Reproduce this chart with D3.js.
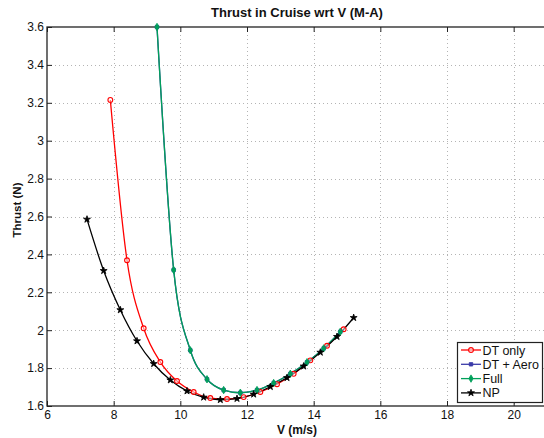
<!DOCTYPE html>
<html>
<head>
<meta charset="utf-8">
<script src="https://cdn.jsdelivr.net/npm/d3@7"></script>
<style>
    body { margin: 0; background: #fff; }
    svg { display: block; font-family: "Liberation Sans", Arial, sans-serif; }
</style>
</head>
<body>
<div id="chart-area"></div>
<script>

/* * * * * * * * * * * * * *
*      chart data          *
* * * * * * * * * * * * * */

// speeds (m/s) and thrust (N) per series
let dtOnlyV = [7.9, 8.4, 8.9, 9.4, 9.9, 10.4, 10.9, 11.4, 11.9, 12.4, 12.9, 13.4, 13.9, 14.4, 14.9];
let dtOnlyT = [3.215, 2.369, 2.010, 1.832, 1.732, 1.674, 1.642, 1.637, 1.647, 1.674, 1.715, 1.770, 1.841, 1.918, 2.005];

let dtAeroV = [9.3, 9.8, 10.3, 10.8, 11.3, 11.8, 12.3, 12.8, 13.3, 13.8, 14.3, 14.8];
let dtAeroT = [3.600, 2.318, 1.894, 1.741, 1.684, 1.670, 1.684, 1.721, 1.770, 1.831, 1.904, 1.992];

let fullV = [9.3, 9.8, 10.3, 10.8, 11.3, 11.8, 12.3, 12.8, 13.3, 13.8, 14.3, 14.8];
let fullT = [3.600, 2.318, 1.894, 1.741, 1.684, 1.670, 1.684, 1.721, 1.770, 1.831, 1.904, 1.992];

let npV = [7.2, 7.7, 8.2, 8.7, 9.2, 9.7, 10.2, 10.7, 11.2, 11.7, 12.2, 12.7, 13.2, 13.7, 14.2, 14.7, 15.2];
let npT = [2.585, 2.314, 2.107, 1.943, 1.823, 1.737, 1.679, 1.646, 1.633, 1.639, 1.662, 1.702, 1.749, 1.810, 1.883, 1.966, 2.066];

let seriesNames = ["DT only", "DT + Aero", "Full", "NP"];

// tick labels
let xTicks = [6, 8, 10, 12, 14, 16, 18, 20];
let yTicks = [1.6, 1.8, 2, 2.2, 2.4, 2.6, 2.8, 3, 3.2, 3.4, 3.6];
let yTickLabels = ["1.6", "1.8", "2", "2.2", "2.4", "2.6", "2.8", "3", "3.2", "3.4", "3.6"];


class ThrustVis {

    constructor(parentElement) {
        this.parentElement = parentElement;

        this.series = [
            {name: seriesNames[0], v: dtOnlyV, t: dtOnlyT, color: "#ff0000", symbol: "circle"},
            {name: seriesNames[1], v: dtAeroV, t: dtAeroT, color: "#3a3aa8", symbol: "square"},
            {name: seriesNames[2], v: fullV, t: fullT, color: "#00a05a", symbol: "diamond"},
            {name: seriesNames[3], v: npV, t: npT, color: "#000000", symbol: "star"}
        ];

        this.initVis();
    }

    initVis() {
        let vis = this;

        vis.width = 544;
        vis.height = 438;

        // plot box (right edge runs off the page like the original)
        vis.box = {left: 47, right: 547, top: 27, bottom: 406};

        vis.svg = d3.select("#" + vis.parentElement).append("svg")
            .attr("width", vis.width)
            .attr("height", vis.height);

        vis.x = d3.scaleLinear()
            .domain([6, 21])
            .range([vis.box.left, vis.box.right]);

        vis.y = d3.scaleLinear()
            .domain([1.6, 3.6])
            .range([vis.box.bottom, vis.box.top]);

        vis.svg.append("clipPath")
            .attr("id", "plot-clip")
            .append("rect")
            .attr("x", vis.box.left)
            .attr("y", vis.box.top - 1)
            .attr("width", vis.box.right - vis.box.left)
            .attr("height", vis.box.bottom - vis.box.top + 2);

        // dotted grid
        vis.svg.append("g")
            .selectAll("line")
            .data(xTicks.filter(d => d > 6))
            .join("line")
            .attr("x1", d => Math.round(vis.x(d)) + 0.5)
            .attr("x2", d => Math.round(vis.x(d)) + 0.5)
            .attr("y1", vis.box.top)
            .attr("y2", vis.box.bottom)
            .attr("stroke", "#b4b4b4")
            .attr("stroke-width", 1)
            .attr("stroke-dasharray", "1,3");

        vis.svg.append("g")
            .selectAll("line")
            .data(yTicks.filter(d => d > 1.6 && d < 3.6))
            .join("line")
            .attr("x1", vis.box.left)
            .attr("x2", vis.box.right)
            .attr("y1", d => Math.round(vis.y(d)) + 0.5)
            .attr("y2", d => Math.round(vis.y(d)) + 0.5)
            .attr("stroke", "#b4b4b4")
            .attr("stroke-width", 1)
            .attr("stroke-dasharray", "1,3");

        // axes, ticks pointing inward
        let xBottom = d3.axisBottom(vis.x)
            .tickValues(xTicks)
            .tickSize(-5)
            .tickPadding(4)
            .tickFormat(d3.format("d"));

        let xTop = d3.axisTop(vis.x)
            .tickValues(xTicks)
            .tickSize(-5)
            .tickFormat("");

        let yLeft = d3.axisLeft(vis.y)
            .tickValues(yTicks)
            .tickSize(-5)
            .tickPadding(3)
            .tickFormat((d, i) => yTickLabels[i]);

        vis.svg.append("g")
            .attr("class", "axis")
            .attr("transform", `translate(0, ${vis.box.bottom})`)
            .call(xBottom);

        vis.svg.append("g")
            .attr("class", "axis")
            .attr("transform", `translate(0, ${vis.box.top})`)
            .call(xTop);

        vis.svg.append("g")
            .attr("class", "axis")
            .attr("transform", `translate(${vis.box.left}, 0)`)
            .call(yLeft);

        vis.svg.selectAll(".axis path").remove();
        vis.svg.selectAll(".axis line").attr("stroke", "#222");
        vis.svg.selectAll(".axis text")
            .style("font-size", "12px")
            .attr("fill", "#111");

        // box frame
        vis.svg.append("rect")
            .attr("x", vis.box.left)
            .attr("y", vis.box.top)
            .attr("width", vis.box.right - vis.box.left)
            .attr("height", vis.box.bottom - vis.box.top)
            .attr("fill", "none")
            .attr("stroke", "#222")
            .attr("stroke-width", 1.3);

        // titles
        vis.svg.append("text")
            .attr("x", (vis.box.left + vis.box.right) / 2)
            .attr("y", 17)
            .attr("text-anchor", "middle")
            .style("font-size", "13px")
            .style("font-weight", "bold")
            .attr("fill", "#111")
            .text("Thrust in Cruise wrt V (M-A)");

        vis.svg.append("text")
            .attr("x", (vis.box.left + vis.box.right) / 2)
            .attr("y", 433.5)
            .attr("text-anchor", "middle")
            .style("font-size", "12px")
            .style("font-weight", "bold")
            .attr("fill", "#111")
            .text("V (m/s)");

        vis.svg.append("text")
            .attr("transform", `translate(21, 210) rotate(-90)`)
            .attr("text-anchor", "middle")
            .style("font-size", "11.5px")
            .style("font-weight", "bold")
            .attr("fill", "#111")
            .text("Thrust (N)");

        vis.updateVis();
    }

    symbolPath(name, size) {
        let types = {
            circle: d3.symbolCircle,
            square: d3.symbolSquare,
            diamond: d3.symbolDiamond,
            star: d3.symbolStar
        };
        return d3.symbol().type(types[name]).size(size)();
    }

    styleMarker(sel, s) {
        if (s.symbol === "circle") {
            sel.attr("fill", "#fff").attr("fill-opacity", 0.5)
                .attr("stroke", s.color).attr("stroke-width", 1.1);
        } else {
            sel.attr("fill", s.color).attr("stroke", s.color).attr("stroke-width", 0.8);
        }
    }

    updateVis() {
        let vis = this;

        let line = d3.line()
            .x(d => vis.x(d[0]))
            .y(d => vis.y(d[1]))
            .curve(d3.curveMonotoneX);

        let plot = vis.svg.append("g").attr("clip-path", "url(#plot-clip)");
        let sizes = {circle: 18, square: 12, diamond: 16, star: 15};

        vis.series.forEach(s => {
            let pts = s.v.map((v, i) => [v, s.t[i]]);

            plot.append("path")
                .datum(pts)
                .attr("d", line)
                .attr("fill", "none")
                .attr("stroke", s.color)
                .attr("stroke-width", 1.3);

            vis.svg.append("g")
                .selectAll("path")
                .data(pts)
                .join("path")
                .attr("transform", d => `translate(${vis.x(d[0])}, ${vis.y(d[1])})`)
                .attr("d", vis.symbolPath(s.symbol, sizes[s.symbol]))
                .call(sel => vis.styleMarker(sel, s));
        });

        // legend
        let lg = {x: 457.5, y: 342.5, w: 85, h: 60};
        let legend = vis.svg.append("g");

        legend.append("rect")
            .attr("x", lg.x)
            .attr("y", lg.y)
            .attr("width", lg.w)
            .attr("height", lg.h)
            .attr("fill", "#fff")
            .attr("stroke", "#222")
            .attr("stroke-width", 1.2);

        vis.series.forEach((s, i) => {
            let yy = lg.y + 7.5 + i * 14.3;

            legend.append("line")
                .attr("x1", lg.x + 3.5)
                .attr("x2", lg.x + 23.5)
                .attr("y1", yy)
                .attr("y2", yy)
                .attr("stroke", s.color)
                .attr("stroke-width", 1.3);

            legend.append("path")
                .attr("transform", `translate(${lg.x + 13.5}, ${yy})`)
                .attr("d", vis.symbolPath(s.symbol, sizes[s.symbol]))
                .call(sel => vis.styleMarker(sel, s));

            legend.append("text")
                .attr("x", lg.x + 25)
                .attr("y", yy)
                .attr("dy", "0.36em")
                .style("font-size", "12.5px")
                .attr("fill", "#111")
                .text(s.name);
        });
    }
}

let myThrustVis = new ThrustVis("chart-area");

</script>
</body>
</html>
